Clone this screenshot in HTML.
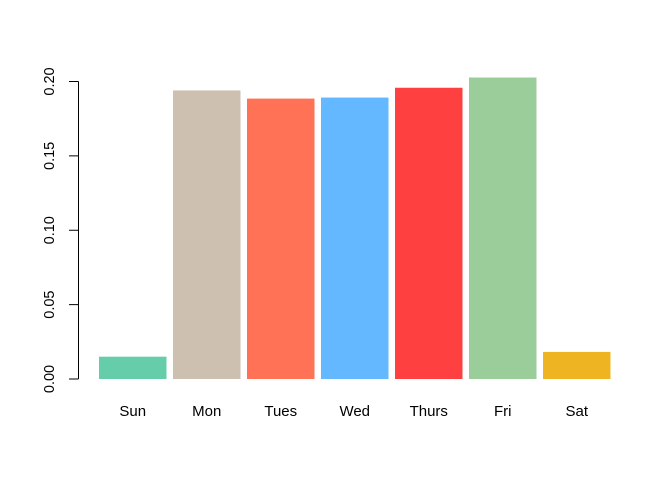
<!DOCTYPE html>
<html><head><meta charset="utf-8"><style>
html,body{margin:0;padding:0;background:#fff;}
svg text{font-family:"Liberation Sans",Arial,sans-serif;fill:#000;}
</style></head><body>
<svg id="chart" width="672" height="480" viewBox="0 0 672 480" xmlns="http://www.w3.org/2000/svg">
<g id="bars"></g>
<g id="yaxis"></g>
<g id="xlabels"></g>
</svg>
<script>
const categories = ["Sun","Mon","Tues","Wed","Thurs","Fri","Sat"];
const values = [0.015, 0.194, 0.1885, 0.1892, 0.1958, 0.2027, 0.0182];
const colors = ["#66CDAA","#CDC0B0","#FF7256","#63B8FF","#FF4040","#9BCD9B","#EEB422"];
const yTicks = [0, 0.05, 0.10, 0.15, 0.20];
const yTickLabels = ["0.00","0.05","0.10","0.15","0.20"];

const NS = "http://www.w3.org/2000/svg";
function yScale(v){ return 379 - v * (379 - 81.5) / 0.20; }
function xLeft(i){ return 99 + i * 74; }
const barW = 67.5;

const gb = document.getElementById('bars');
categories.forEach((c,i)=>{
  const r = document.createElementNS(NS,'rect');
  r.setAttribute('x', xLeft(i));
  r.setAttribute('y', yScale(values[i]));
  r.setAttribute('width', barW);
  r.setAttribute('height', yScale(0) - yScale(values[i]));
  r.setAttribute('fill', colors[i]);
  
  
  gb.appendChild(r);
});

const gy = document.getElementById('yaxis');
const axis = document.createElementNS(NS,'line');
axis.setAttribute('x1',78.5); axis.setAttribute('x2',78.5);
axis.setAttribute('y1',yScale(yTicks[0])); axis.setAttribute('y2',yScale(yTicks[yTicks.length-1]));
axis.setAttribute('stroke','#000'); axis.setAttribute('stroke-width',1);


gy.appendChild(axis);
yTicks.forEach((t,i)=>{
  const y = yScale(t);
  const l = document.createElementNS(NS,'line');
  l.setAttribute('x1',69); l.setAttribute('x2',78.5);
  l.setAttribute('y1',y); l.setAttribute('y2',y);
  l.setAttribute('stroke','#000');
  
  
  gy.appendChild(l);
  const tx = document.createElementNS(NS,'text');
  tx.setAttribute('x',0); tx.setAttribute('y',0);
  tx.setAttribute('text-anchor','middle');
  tx.setAttribute('font-size','14.5');
  tx.setAttribute('transform','translate(54,'+y+') rotate(-90)');
  tx.textContent = yTickLabels[i];
  
  
  gy.appendChild(tx);
});

const gx = document.getElementById('xlabels');
categories.forEach((c,i)=>{
  const tx = document.createElementNS(NS,'text');
  tx.setAttribute('x', xLeft(i) + barW/2);
  tx.setAttribute('y', 416);
  tx.setAttribute('text-anchor','middle');
  tx.setAttribute('font-size','15');
  tx.textContent = c;
  
  
  gx.appendChild(tx);
});
</script>
</body></html>
